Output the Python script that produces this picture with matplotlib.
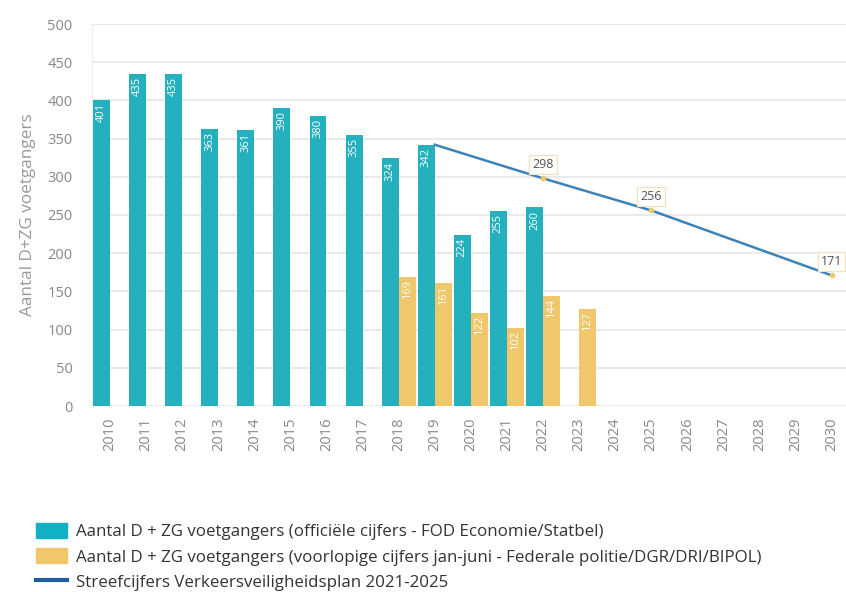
import numpy as np
import matplotlib.pyplot as plt
from matplotlib.patches import Patch
from matplotlib.lines import Line2D

plt.rcParams['font.family'] = ['Open Sans', 'DejaVu Sans']

years = list(range(2010, 2031))
officieel = [401, 435, 435, 363, 361, 390, 380, 355, 324, 342, 224, 255, 260]
voorlopig_jaren = [2018, 2019, 2020, 2021, 2022, 2023]
voorlopig = [169, 161, 122, 102, 144, 127]
doel_jaren = [2019, 2022, 2025, 2030]
doel = [342, 298, 256, 171]

teal = '#25b0bd'
geel = '#f0c76a'
blauw = '#3b83b8'
grijs = '#888888'

fig = plt.figure(figsize=(8.46, 5.92), dpi=100)
ax = fig.add_axes([92 / 846, 1 - 406 / 592, 1 - 92 / 846, 382 / 592])

w = 0.47
x_off = np.arange(len(officieel))
ax.bar(x_off - w / 2, officieel, width=w, color=teal, zorder=3)
x_voor = np.array([y - 2010 for y in voorlopig_jaren])
ax.bar(x_voor + w / 2, voorlopig, width=w, color=geel, zorder=3)

for x, v in zip(x_off, officieel):
    ax.text(x - w / 2, v - 4, str(v), rotation=90, ha='center', va='top',
            color='white', fontsize=8, zorder=4)
for x, v in zip(x_voor, voorlopig):
    ax.text(x + w / 2, v - 4, str(v), rotation=90, ha='center', va='top',
            color='white', fontsize=8, zorder=4)

x_doel = np.array([y - 2010 for y in doel_jaren])
ax.plot(x_doel, doel, color=blauw, lw=1.8, zorder=5)
ax.plot(x_doel[1:], doel[1:], 'o', color=geel, ms=3, zorder=6)
for x, v in zip(x_doel[1:], doel[1:]):
    ax.text(x, v + 10, str(v), ha='center', va='bottom', fontsize=9, color='#555555',
            zorder=6, bbox=dict(boxstyle='square,pad=0.25', fc='white', ec='#f7dfb8', lw=0.8))

ax.set_xlim(-0.5, 20.4)
ax.set_ylim(0, 500)
ax.set_yticks(np.arange(0, 501, 50))
ax.set_xticks(np.arange(len(years)))
ax.set_xticklabels([str(y) for y in years], rotation=90, fontsize=10.5, color=grijs)
ax.tick_params(axis='y', labelsize=10.5, labelcolor=grijs, length=0, pad=14)
ax.tick_params(axis='x', length=0, pad=8)
ax.grid(axis='y', color='#e6e6e6', lw=1.2, zorder=0)
for s in ['top', 'right', 'bottom']:
    ax.spines[s].set_visible(False)
ax.spines['left'].set_color('#eeeeee')
ax.set_ylabel('Aantal D+ZG voetgangers', fontsize=12.3, color='#999999', labelpad=8)

handles = [
    Patch(color='#10b1c2'),
    Patch(color=geel),
    Line2D([0], [0], color='#1f5fa0', lw=3),
]
labels = [
    'Aantal D + ZG voetgangers (officiële cijfers - FOD Economie/Statbel)',
    'Aantal D + ZG voetgangers (voorlopige cijfers jan-juni - Federale politie/DGR/DRI/BIPOL)',
    'Streefcijfers Verkeersveiligheidsplan 2021-2025',
]
fig.legend(handles, labels, loc='lower left', bbox_to_anchor=(0.024, -0.024), frameon=False,
           fontsize=12.2, labelcolor='#333333', handlelength=1.85, handleheight=1.0,
           handletextpad=0.55, labelspacing=0.47)

fig.savefig('out.png', dpi=100)
